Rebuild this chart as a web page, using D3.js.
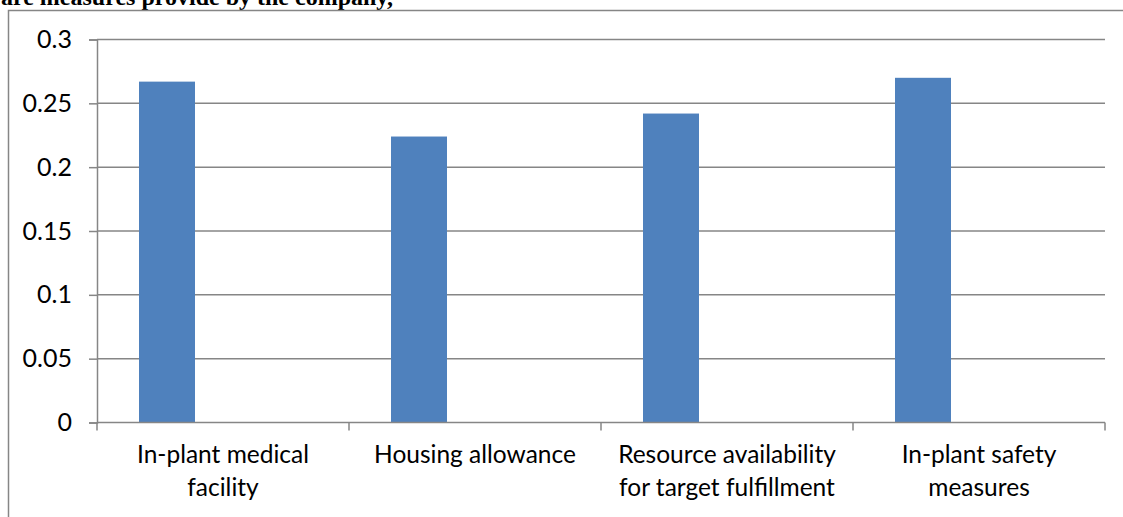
<!DOCTYPE html>
<html>
<head>
<meta charset="utf-8">
<script src="https://cdn.jsdelivr.net/npm/d3@7"></script>
<style>
  html, body { margin: 0; padding: 0; background: #fff; }
  svg { display: block; }
</style>
</head>
<body>
<svg id="chart" width="1123" height="517"></svg>
<script>
// Welfare measures: mean scores per category
const categories = [
  ["In-plant medical", "facility"],
  ["Housing allowance"],
  ["Resource availability", "for target fulfillment"],
  ["In-plant safety", "measures"]
];
const values = [0.267, 0.224, 0.242, 0.270];
// clustered layout keeps room for three series; only the first carries data
const seriesSlots = ["Series1", "Series2", "Series3"];
const yTicks = [0, 0.05, 0.1, 0.15, 0.2, 0.25, 0.3];
const yTickLabels = ["0", "0.05", "0.1", "0.15", "0.2", "0.25", "0.3"];
const heading = "are measures provide by the company,";

const svg = d3.select("#chart");
const axisColor = "#868686";
const labelFont = "Lato, 'Open Sans', sans-serif";

const plot = { left: 97, right: 1105, top: 39.5, bottom: 422.5 };

const x = d3.scaleBand()
  .domain(d3.range(categories.length))
  .range([plot.left, plot.right])
  .paddingInner(0).paddingOuter(0);

const xs = d3.scaleBand()
  .domain(seriesSlots)
  .range([0, x.bandwidth()])
  .paddingInner(0)
  .paddingOuter(0.75);

const y = d3.scaleLinear().domain([0, 0.3]).range([plot.bottom, plot.top]);

// heading text, cut off by the top of the page
svg.append("text")
  .attr("x", 1).attr("y", 5)
  .attr("font-family", "'Liberation Serif', 'Times New Roman', serif")
  .attr("font-weight", "bold")
  .attr("font-size", 24)
  .attr("fill", "#000")
  .text(heading);

// chart frame
svg.append("path")
  .attr("d", `M8.5,517 V10.5 H1123`)
  .attr("fill", "none")
  .attr("stroke", axisColor)
  .attr("stroke-width", 1.5);

// horizontal gridlines
svg.append("g")
  .selectAll("line")
  .data(yTicks.filter(d => d > 0))
  .join("line")
  .attr("x1", plot.left).attr("x2", plot.right)
  .attr("y1", d => y(d)).attr("y2", d => y(d))
  .attr("stroke", axisColor)
  .attr("stroke-width", 1.5);

// y axis
const yAxis = d3.axisLeft(y)
  .tickValues(yTicks)
  .tickSize(8)
  .tickPadding(17)
  .tickFormat((d, i) => yTickLabels[i]);

const gy = svg.append("g")
  .attr("transform", `translate(${plot.left},0)`)
  .call(yAxis);
gy.select(".domain").attr("stroke", axisColor).attr("stroke-width", 1.5);
gy.selectAll(".tick line").attr("stroke", axisColor).attr("stroke-width", 1.5);
gy.selectAll(".tick text")
  .attr("font-family", labelFont)
  .attr("font-size", 25)
  .attr("fill", "#000");

// bars (first series slot of each cluster)
svg.append("g")
  .selectAll("rect")
  .data(values)
  .join("rect")
  .attr("x", (d, i) => x(i) + xs(seriesSlots[0]))
  .attr("width", xs.bandwidth())
  .attr("y", d => y(d))
  .attr("height", d => y(0) - y(d))
  .attr("fill", "#4F81BD");

// x axis: baseline and tick marks at category boundaries
const xEdges = d3.range(categories.length + 1).map(i =>
  i < categories.length ? x(i) : x(categories.length - 1) + x.bandwidth());
const gx = svg.append("g");
gx.append("line")
  .attr("x1", plot.left).attr("x2", plot.right)
  .attr("y1", y(0)).attr("y2", y(0))
  .attr("stroke", axisColor).attr("stroke-width", 1.5);
gx.selectAll("line.tick")
  .data(xEdges)
  .join("line")
  .attr("class", "tick")
  .attr("x1", d => d).attr("x2", d => d)
  .attr("y1", y(0)).attr("y2", y(0) + 8)
  .attr("stroke", axisColor).attr("stroke-width", 1.5);

// category labels
const lbl = svg.append("g")
  .selectAll("text")
  .data(categories)
  .join("text")
  .attr("x", (d, i) => x(i) + x.bandwidth() / 2)
  .attr("y", 463)
  .attr("text-anchor", "middle")
  .attr("font-family", labelFont)
  .attr("font-size", 24.5)
  .attr("fill", "#000");
lbl.selectAll("tspan")
  .data(d => d)
  .join("tspan")
  .attr("x", function () { return d3.select(this.parentNode).attr("x"); })
  .attr("dy", (d, i) => i === 0 ? 0 : 33)
  .text(d => d);
</script>
</body>
</html>
